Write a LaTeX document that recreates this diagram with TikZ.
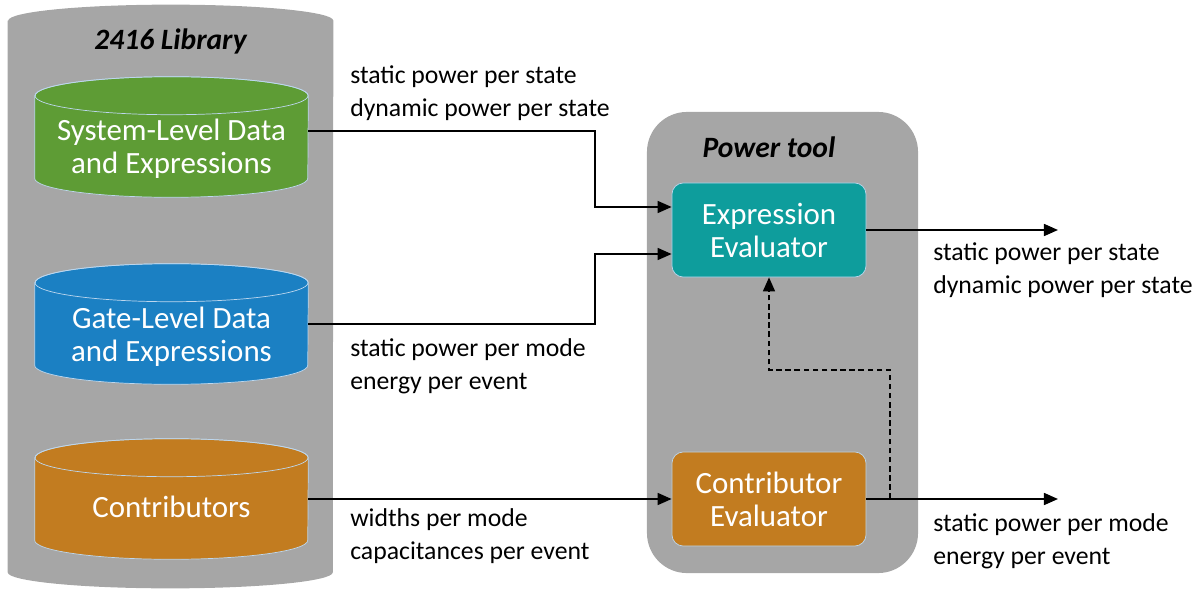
\documentclass[tikz,border=0pt]{standalone}
\usepackage{fontspec}
\setmainfont{Carlito}
\usetikzlibrary{shapes.geometric, arrows.meta, positioning}
\definecolor{LibGray}{HTML}{A6A6A6}
\definecolor{SysGreen}{HTML}{5E9C35}
\definecolor{GateBlue}{HTML}{1B80C3}
\definecolor{ContOrange}{HTML}{C27C20}
\definecolor{EvalTeal}{HTML}{0E9D9C}
\definecolor{EdgeBlue}{HTML}{BDD7EE}

% Cilindro sobre un nodo: nodo, opciones, semieje x, semieje y
\newcommand{\drum}[4]{%
    \path[#2] ([yshift=-#4]#1.north west) -- ([yshift=#4]#1.south west)
        arc[start angle=180, end angle=360, x radius=#3, y radius=#4]
        -- ([yshift=-#4]#1.north east)
        arc[start angle=0, end angle=180, x radius=#3, y radius=#4] -- cycle;
    \path[#2, fill=none] ([yshift=-#4]#1.north) ellipse[x radius=#3, y radius=#4];
}

\begin{document}
\begin{tikzpicture}[
    x=0.025cm, y=-0.025cm,
    % Cilindros de datos
    store/.style={
            rectangle,
            minimum width=6.825cm,
            minimum height=3cm,
            inner sep=0pt
        },
    storetext/.style={
            text=white,
            align=center,
            font=\fontsize{22}{23.5}\selectfont
        },
    rim/.style={
            fill=#1,
            draw=EdgeBlue,
            line width=0.5pt
        },
    % Evaluadores
    evalbox/.style={
            rectangle,
            rounded corners=8pt,
            fill=#1,
            draw=EdgeBlue,
            line width=0.5pt,
            minimum width=4.85cm,
            minimum height=2.35cm,
            text=white,
            align=center,
            font=\fontsize{22}{23.5}\selectfont
        },
    title/.style={
            font=\fontsize{21}{24}\selectfont\bfseries\itshape
        },
    lbl/.style={
            anchor=west,
            align=left,
            inner sep=0pt,
            font=\fontsize{18.3}{23.5}\selectfont
        },
    % Flechas
    flow/.style={
    -{Triangle[length=10pt,width=8.5pt]},
    line width=1.3pt
    },
    feedback/.style={
    flow,
    dash pattern=on 4pt off 2.5pt
    }
    ]

    \useasboundingbox (0,0) rectangle (1203,597);

    % ========== BIBLIOTECA ==========
    \node[rectangle, minimum width=8.125cm, minimum height=14.575cm, inner sep=0pt] (lib) at (170.5,296.5) {};
    \drum{lib}{fill=LibGray}{4.0625cm}{0.4cm}
    \node[title] (libtitle) at ([yshift=-0.925cm]lib.north) {2416 Library};

    \node[store] (sys) at (171.5,137) {};
    \drum{sys}{rim=SysGreen}{3.4125cm}{0.475cm}
    \node[storetext] (systext) at ([yshift=-0.3cm]sys.center) {System-Level Data\\and Expressions};

    \node[store] (gate) at (171.5,324) {};
    \drum{gate}{rim=GateBlue}{3.4125cm}{0.475cm}
    \node[storetext] (gatetext) at ([yshift=-0.325cm]gate.center) {Gate-Level Data\\and Expressions};

    \node[store] (contr) at (171.5,499) {};
    \drum{contr}{rim=ContOrange}{3.4125cm}{0.475cm}
    \node[storetext] (contrtext) at ([yshift=-0.2cm]contr.center) {Contributors};

    % ========== POWER TOOL ==========
    \node[rectangle, rounded corners=1cm, fill=LibGray, minimum width=6.775cm,
        minimum height=11.525cm] (tool) at (782.5,342.5) {};

    \node[evalbox=EvalTeal] (expr) at (769,230) {Expression\\Evaluator};
    \node[evalbox=ContOrange] (contrib) at (769,499) {Contributor\\Evaluator};
    \node[title] (tooltitle) at ([yshift=0.875cm]expr.north) {Power tool};

    % ========== SALIDAS ==========
    \coordinate (exprout) at (1058,230);
    \coordinate (contribout) at (1058,499);
    \coordinate (tap) at ([xshift=0.6cm]contrib.east);

    % ========== ETIQUETAS ==========
    \node[lbl] (sysflow) at (350,93) {static power per state\\dynamic power per state};
    \node[lbl] (gateflow) at (350,366) {static power per mode\\energy per event};
    \node[lbl] (contrflow) at (350,536) {widths per mode\\capacitances per event};
    \node[lbl] (exprflow) at (933,270) {static power per state\\dynamic power per state};
    \node[lbl] (contribflow) at (933,541) {static power per mode\\energy per event};

    % ========== FLECHAS ==========
    \draw[flow] ([yshift=0.15cm]sys.east) -- ++(287,0) |- ([yshift=0.575cm]expr.west);
    \draw[flow] (gate.east) -- ++(287,0) |- ([yshift=-0.6cm]expr.west);
    \draw[flow] (contr.east) -- (contrib.west);

    \draw[flow] (expr.east) -- (exprout);
    \draw[flow] (contrib.east) -- (contribout);

    % Realimentacion
    \draw[feedback] (tap) -- ++(0,-129) -| (expr.south);

\end{tikzpicture}
\end{document}
